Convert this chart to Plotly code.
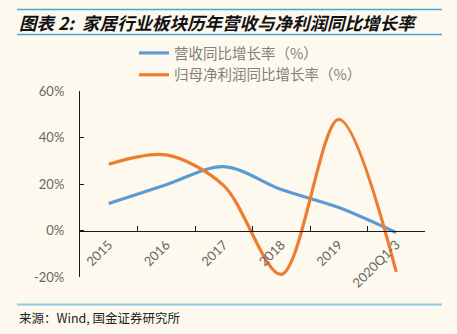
import plotly.graph_objects as go

categories = ["2015", "2016", "2017", "2018", "2019", "2020Q1-3"]
revenue_growth = [11.6, 19.7, 27.5, 17.6, 9.9, -0.9]
profit_growth = [28.5, 32.5, 19.3, -18.9, 47.8, -17.8]
series_names = ["营收同比增长率（%）", "归母净利润同比增长率（%）"]
y_ticks = [-20, 0, 20, 40, 60]
y_tick_labels = ["-20%", "0%", "20%", "40%", "60%"]

W, H = 457, 334
L, R, T, B = 80, 32, 91, 57
PW, PH = W - L - R, H - T - B

def px(x):
    return (x - L) / PW

def py(y):
    return (H - B - y) / PH

fig = go.Figure()
fig.add_trace(go.Scatter(x=categories, y=revenue_growth, mode="lines", name=series_names[0],
                         line=dict(color="#5B9BD5", width=3.2, shape="spline", smoothing=0.9)))
fig.add_trace(go.Scatter(x=categories, y=profit_growth, mode="lines", name=series_names[1],
                         line=dict(color="#ED7D31", width=3.2, shape="spline", smoothing=0.9)))

fig.update_layout(
    width=W, height=H,
    margin=dict(l=L, r=R, t=T, b=B),
    paper_bgcolor="#FDF9EF", plot_bgcolor="#FDF9EF",
    font=dict(family="Noto Sans CJK SC, Noto Sans, sans-serif", color="#595959"),
    showlegend=True,
    legend=dict(x=px(134), y=py(37), xanchor="left", yanchor="top",
                bgcolor="rgba(0,0,0,0)", font=dict(size=14.5, color="#808080"),
                itemwidth=30, tracegroupgap=2),
    xaxis=dict(type="category", anchor="free", position=py(231),
               showline=True, linecolor="#1a1a1a", linewidth=1.2,
               ticks="inside", ticklen=5, tickcolor="#1a1a1a", tickson="boundaries",
               tickangle=-45, tickfont=dict(size=13, color="#666666", family="Lato, sans-serif"),
               showgrid=False, zeroline=False, range=[-0.5, 5.5]),
    yaxis=dict(range=[-20, 60], tickvals=y_ticks, ticktext=y_tick_labels,
               showline=True, linecolor="#1a1a1a", linewidth=1.2,
               ticks="inside", ticklen=4, tickcolor="#1a1a1a", ticklabelstandoff=12,
               tickfont=dict(size=13, color="#666666", family="Lato, sans-serif"),
               showgrid=False, zeroline=False),
)

line_color = "#4BA3D8"
fig.add_shape(type="line", xref="paper", yref="paper", x0=px(17), x1=px(442), y0=py(9.5), y1=py(9.5),
              line=dict(color=line_color, width=1.5))
fig.add_shape(type="line", xref="paper", yref="paper", x0=px(17), x1=px(442), y0=py(34.5), y1=py(34.5),
              line=dict(color=line_color, width=1.5))
fig.add_shape(type="line", xref="paper", yref="paper", x0=px(17), x1=px(442), y0=py(304.5), y1=py(304.5),
              line=dict(color="#8DCBE8", width=2))

fig.add_annotation(xref="paper", yref="paper", x=px(17), y=py(22), xanchor="left", yanchor="middle",
                   text="<b><i>图表 2:  家居行业板块历年营收与净利润同比增长率</i></b>", showarrow=False,
                   font=dict(size=17.5, color="#111111", family="Noto Sans CJK SC"))
fig.add_annotation(xref="paper", yref="paper", x=px(17), y=py(317), xanchor="left", yanchor="middle",
                   text="来源：Wind, 国金证券研究所", showarrow=False,
                   font=dict(size=12.5, color="#222222", family="Noto Sans CJK SC"))

fig.write_html("out.html")
